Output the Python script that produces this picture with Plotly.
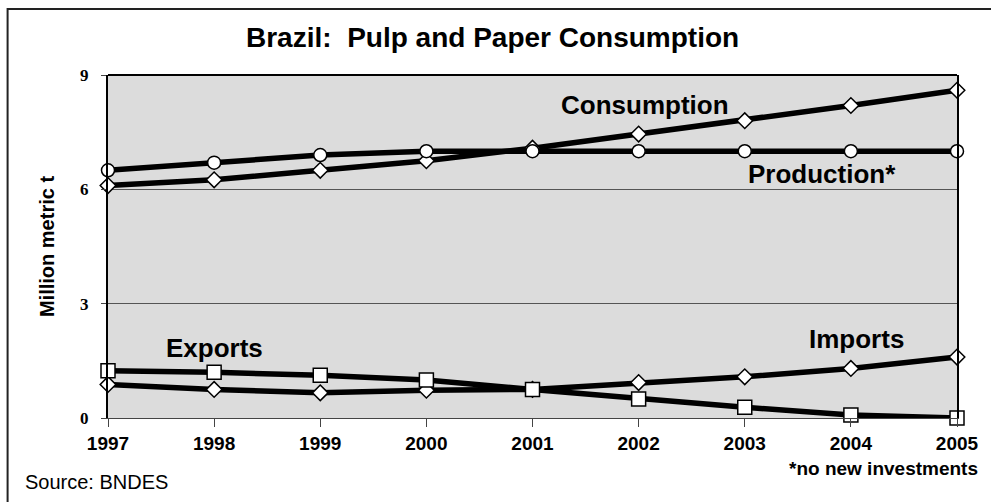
import plotly.graph_objects as go

# Brazil pulp and paper balance, million metric tonnes
years = [1997, 1998, 1999, 2000, 2001, 2002, 2003, 2004, 2005]
consumption = [6.1, 6.25, 6.5, 6.75, 7.08, 7.45, 7.8, 8.2, 8.6]
production = [6.5, 6.7, 6.9, 7.0, 7.0, 7.0, 7.0, 7.0, 7.0]
exports = [1.24, 1.2, 1.12, 1.0, 0.75, 0.5, 0.28, 0.08, 0.0]
imports = [0.88, 0.75, 0.66, 0.73, 0.75, 0.93, 1.08, 1.3, 1.6]

y_ticks = [0, 3, 6, 9]
x_ticks = years

W, H = 991, 502
ML, MR, MT, MB = 108, 29, 75, 84
PW, PH = W - ML - MR, H - MT - MB


def px(x):
    return (x - ML) / PW


def py(y):
    return (H - MB - y) / PH


fig = go.Figure()


def add_series(vals, symbol, size):
    fig.add_trace(go.Scatter(
        x=years, y=vals, mode="lines+markers",
        line=dict(color="black", width=5.5),
        marker=dict(symbol=symbol, size=size, color="white",
                    line=dict(color="black", width=1.5)),
        cliponaxis=False, showlegend=False, hoverinfo="x+y",
    ))


add_series(consumption, "diamond", 12)
add_series(imports, "diamond", 12)
add_series(production, "circle", 13)
add_series(exports, "square", 14)

label_font = dict(family="Liberation Sans, Arial, sans-serif", size=26, color="black")
series_labels = [
    ("<b>Consumption</b>", 2002.06, 8.2),
    ("<b>Production*</b>", 2003.73, 6.4),
    ("<b>Exports</b>", 1998.0, 1.84),
    ("<b>Imports</b>", 2004.05, 2.07),
]
annotations = [
    dict(text=t, x=x, y=y, xref="x", yref="y", showarrow=False,
         font=label_font, xanchor="center", yanchor="middle")
    for t, x, y in series_labels
]

annotations += [
    dict(text="<b>Brazil:\u00a0\u00a0Pulp and Paper Consumption</b>",
         x=px(495), y=py(38), xref="paper", yref="paper", showarrow=False,
         font=dict(family="Liberation Sans, Arial, sans-serif", size=28, color="black"),
         xanchor="center", yanchor="middle"),
    dict(text="Source: BNDES", x=px(22), y=py(482), xref="paper", yref="paper",
         showarrow=False, xanchor="left", yanchor="middle",
         font=dict(family="Liberation Sans, Arial, sans-serif", size=20, color="black")),
    dict(text="<b>*no new investments</b>", x=px(985), y=py(469), xref="paper",
         yref="paper", showarrow=False, xanchor="right", yanchor="middle",
         font=dict(family="Liberation Sans, Arial, sans-serif", size=19, color="black")),
]

fig.update_layout(
    width=W, height=H,
    margin=dict(l=ML, r=MR, t=MT, b=MB, pad=0),
    paper_bgcolor="white",
    plot_bgcolor="#dcdcdc",
    annotations=annotations,
    shapes=[
        # outer frame (left and top edges visible)
        dict(type="rect", xref="paper", yref="paper",
             x0=px(7), x1=px(1000), y0=py(520), y1=py(9),
             line=dict(color="#222", width=2), layer="below"),
        # top edge of the plotting area
        dict(type="line", xref="paper", yref="paper", x0=0, x1=1, y0=1, y1=1,
             line=dict(color="black", width=2)),
    ],
    xaxis=dict(
        range=[1997, 2005], tickvals=x_ticks, ticktext=[str(v) for v in x_ticks],
        showgrid=False, zeroline=False,
        showline=True, linecolor="#444", linewidth=1,
        ticks="outside", ticklen=8, tickcolor="#444", tickwidth=1,
        ticklabelstandoff=0,
        tickfont=dict(family="Liberation Sans, Arial, sans-serif", size=19, color="black", weight="bold"),
    ),
    yaxis=dict(
        range=[0, 9], tickvals=y_ticks,
        showgrid=True, gridcolor="#555", gridwidth=1,
        zeroline=False,
        showline=True, linecolor="black", linewidth=2, mirror=True,
        ticks="outside", ticklen=5, tickcolor="#444", tickwidth=1,
        ticklabelstandoff=9,
        tickfont=dict(family="Liberation Serif, Times New Roman, serif", size=17, color="black", weight="bold"),
        title=dict(text="<b>Million metric t</b>", standoff=20,
                   font=dict(family="Liberation Sans, Arial, sans-serif", size=20, color="black")),
    ),
)

fig.write_html("out.html")
